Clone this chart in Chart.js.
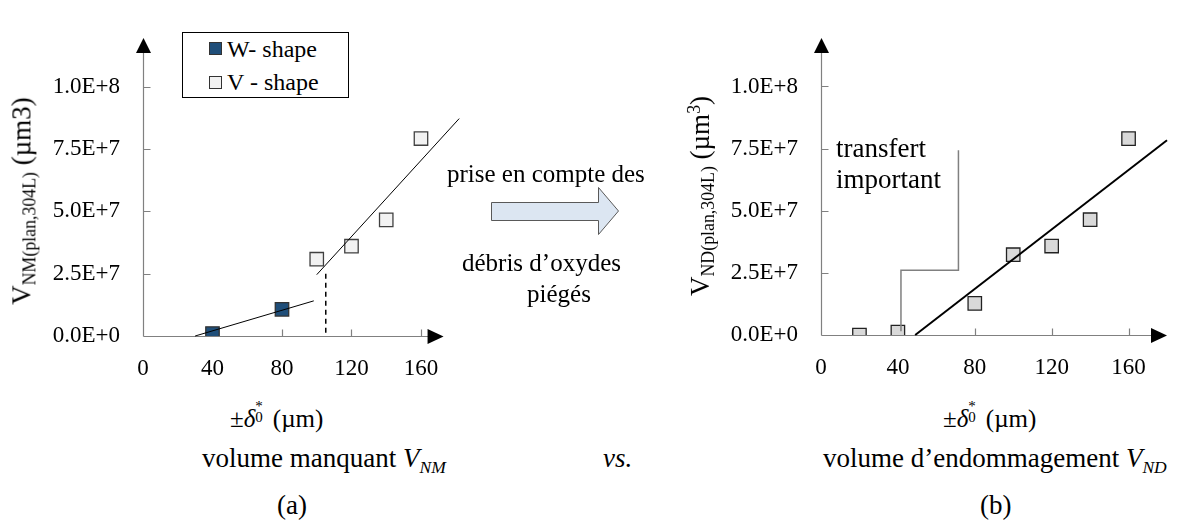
<!DOCTYPE html>
<html><head><meta charset="utf-8">
<script src="https://cdn.jsdelivr.net/npm/chart.js@4/dist/chart.umd.min.js"></script>
<style>
html,body{margin:0;padding:0;background:#fff}
body{width:1184px;height:529px;position:relative;overflow:hidden;font-family:"Liberation Serif",serif;color:#000}
canvas{position:absolute;top:0}
#cL{left:0}
#cR{left:700px}
.t{position:absolute;white-space:nowrap;line-height:1}
.yt{position:absolute;white-space:nowrap;line-height:1;transform:translate(-50%,-50%) rotate(-90deg)}
.yt sub{font-size:0.66em;vertical-align:-0.3em}
.yt sup{font-size:0.66em;vertical-align:0.5em}
.ss{display:inline-block;position:relative;width:0.45em;height:1em;vertical-align:baseline}
.ss .a{position:absolute;left:0;top:-0.22em;font-size:0.6em}
.ss .b{position:absolute;left:0;top:0.52em;font-size:0.6em}
#legend{position:absolute;left:182px;top:32px;width:165px;height:64px;border:1.3px solid #000;background:#fff}
.mk{position:absolute;width:13px;height:13px;box-sizing:border-box;border:1.3px solid #333}
</style></head><body>
<canvas id="cL" width="470" height="380"></canvas>
<canvas id="cR" width="484" height="380"></canvas>

<div id="legend"></div>
<div class="mk" style="left:209px;top:42px;background:#1f4e79"></div>
<div class="t" style="left:227px;top:37px;font-size:24px">W- shape</div>
<div class="mk" style="left:209px;top:76px;background:#f2f2f2"></div>
<div class="t" style="left:227px;top:70px;font-size:24px">V - shape</div>

<div class="yt" style="left:24px;top:201px;font-size:27px">V<sub>NM(plan,304L)</sub> (µm3)</div>
<div class="yt" style="left:702px;top:196px;font-size:27px">V<sub>ND(plan,304L)</sub> (µm<sup>3</sup>)</div>

<div class="t" style="left:230px;top:402px;font-size:25px">±<i>δ</i><span class="ss"><span class="a">*</span><span class="b">0</span></span> (µm)</div>
<div class="t" style="left:943px;top:402px;font-size:25px">±<i>δ</i><span class="ss"><span class="a">*</span><span class="b">0</span></span> (µm)</div>

<div class="t" style="left:202px;top:445px;font-size:27px">volume manquant <i>V<sub style="font-size:0.65em">NM</sub></i></div>
<div class="t" style="left:603px;top:445px;font-size:27px"><i>vs.</i></div>
<div class="t" style="left:823px;top:445px;font-size:27px">volume d’endommagement <i>V<sub style="font-size:0.65em">ND</sub></i></div>
<div class="t" style="left:277px;top:492px;font-size:27px">(a)</div>
<div class="t" style="left:980px;top:492px;font-size:27px">(b)</div>

<div class="t" style="left:447px;top:161px;font-size:25px">prise en compte des</div>
<div class="t" style="left:462px;top:250px;font-size:25px">débris d’oxydes</div>
<div class="t" style="left:527px;top:281px;font-size:25px">piégés</div>
<svg style="position:absolute;left:0;top:0" width="1184" height="529">
  <polygon points="491.5,202.5 598.5,202.5 598.5,187.5 618.5,211 598.5,234.5 598.5,220.5 491.5,220.5" fill="#dce6f2" stroke="#595959" stroke-width="1"/>
</svg>

<div class="t" style="left:836px;top:135px;font-size:27px">transfert</div>
<div class="t" style="left:836px;top:166px;font-size:27px">important</div>

<script>
// ---- data ----
const xTickValues = [0, 40, 80, 120, 160];
const yTickValues = [0, 2.5e7, 5e7, 7.5e7, 1e8];

// (a) volume manquant
const wShapeX = [40, 80];
const wShapeY = [0.1e7, 1.07e7];
const vShapeX = [100, 120, 140, 160];
const vShapeY = [3.08e7, 3.6e7, 4.66e7, 7.92e7];
const wTrendX = [30, 98.3];
const wTrendY = [0, 1.41e7];
const vTrendX = [100, 182];
const vTrendY = [2.46e7, 8.72e7];
const dashX = [105.2, 105.2];
const dashY = [2.5e7, 0];

// (b) volume d'endommagement
const ndX = [20, 40, 80, 100, 120, 140, 160];
const ndY = [0, 0.12e7, 1.27e7, 3.23e7, 3.58e7, 4.64e7, 7.9e7];
const ndTrendX = [49, 180];
const ndTrendY = [0, 7.84e7];
const bracketX = [71.5, 71.5, 41.6, 41.6];
const bracketY = [7.43e7, 2.61e7, 2.61e7, 0.15e7];

const pts = (xs, ys) => xs.map((x, i) => ({x, y: ys[i]}));
const FONT = "'Liberation Serif', serif";

const axesPlugin = {
  id: 'axesArrows',
  beforeDatasetsDraw(chart, args, o) {
    const {ctx} = chart;
    const xs = chart.scales.x, ys = chart.scales.y;
    const x0 = Math.round(xs.getPixelForValue(0)) + 0.5;
    const y0 = Math.round(ys.getPixelForValue(0)) + 0.5;
    const xe = xs.getPixelForValue(o.xArrow);
    const ye = ys.getPixelForValue(o.yArrow);
    ctx.save();
    ctx.strokeStyle = '#808080';
    ctx.lineWidth = 1.2;
    ctx.beginPath();
    ctx.moveTo(x0, y0); ctx.lineTo(x0, ye + 14);
    ctx.moveTo(x0, y0); ctx.lineTo(xe - 14, y0);
    yTickValues.forEach(v => { const p = Math.round(ys.getPixelForValue(v)) + 0.5; ctx.moveTo(x0, p); ctx.lineTo(x0 + 7, p); });
    xTickValues.forEach(v => { if (v === 0) return; const p = Math.round(xs.getPixelForValue(v)) + 0.5; ctx.moveTo(p, y0); ctx.lineTo(p, y0 - 7); });
    ctx.stroke();
    ctx.fillStyle = '#000';
    ctx.beginPath(); ctx.moveTo(x0, ye); ctx.lineTo(x0 - 7.5, ye + 15); ctx.lineTo(x0 + 7.5, ye + 15); ctx.closePath(); ctx.fill();
    ctx.beginPath(); ctx.moveTo(xe, y0); ctx.lineTo(xe - 16, y0 - 7.5); ctx.lineTo(xe - 16, y0 + 7.5); ctx.closePath(); ctx.fill();
    ctx.restore();
  }
};

function scales(xMax, yWidth, xHeight) {
  return {
    x: {
      type: 'linear', min: 0, max: xMax,
      grid: {display: false, drawTicks: false}, border: {display: false},
      afterBuildTicks: s => { s.ticks = xTickValues.map(v => ({value: v})); },
      afterFit: s => { s.height = xHeight; },
      ticks: {autoSkip: false, maxRotation: 0, padding: 19, color: '#000', font: {family: FONT, size: 23}}
    },
    y: {
      type: 'linear', min: 0, max: 1.2e8,
      grid: {display: false, drawTicks: false}, border: {display: false},
      afterBuildTicks: s => { s.ticks = yTickValues.map(v => ({value: v})); },
      afterFit: s => { s.width = yWidth; },
      ticks: {padding: 23, color: '#000', font: {family: FONT, size: 23},
        callback: v => Number(v).toExponential(1).replace('e', 'E')}
    }
  };
}

const lineDs = (data, extra) => Object.assign({type: 'scatter', data, showLine: true, pointRadius: 0, borderColor: '#000', borderWidth: 1, fill: false, clip: false}, extra || {});

new Chart(document.getElementById('cL'), {
  type: 'scatter',
  data: {datasets: [
    lineDs(pts(vTrendX, vTrendY)),
    lineDs(pts(wTrendX, wTrendY)),
    lineDs(pts(dashX, dashY), {borderDash: [5, 4], borderWidth: 1.5}),
    {label: 'W- shape', data: pts(wShapeX, wShapeY), pointStyle: 'rect', pointRadius: 9.5, backgroundColor: '#1f4e79', borderColor: '#333', borderWidth: 1.3},
    {label: 'V - shape', data: pts(vShapeX, vShapeY), pointStyle: 'rect', pointRadius: 9.5, backgroundColor: '#f2f2f2', borderColor: '#404040', borderWidth: 1.3}
  ]},
  options: {
    responsive: false, animation: false, events: [],
    layout: {padding: {left: 0, top: 9, right: 9.4, bottom: 0}},
    scales: scales(182, 143, 44),
    plugins: {legend: {display: false}, tooltip: {enabled: false}, axesArrows: {xArrow: 173, yArrow: 1.195e8}}
  },
  plugins: [axesPlugin]
});

new Chart(document.getElementById('cR'), {
  type: 'scatter',
  data: {datasets: [
    lineDs(pts(ndTrendX, ndTrendY), {borderWidth: 2}),
    lineDs(pts(bracketX, bracketY), {borderColor: '#808080', borderWidth: 1.5}),
    {label: 'V - shape', data: pts(ndX, ndY), pointStyle: 'rect', pointRadius: 9.5, backgroundColor: '#d9d9d9', borderColor: '#222', borderWidth: 1.3}
  ]},
  options: {
    responsive: false, animation: false, events: [],
    layout: {padding: {left: 0, top: 9, right: 17, bottom: 0}},
    scales: scales(180, 121, 45),
    plugins: {legend: {display: false}, tooltip: {enabled: false}, axesArrows: {xArrow: 180, yArrow: 1.195e8}}
  },
  plugins: [axesPlugin]
});
</script>
</body></html>
